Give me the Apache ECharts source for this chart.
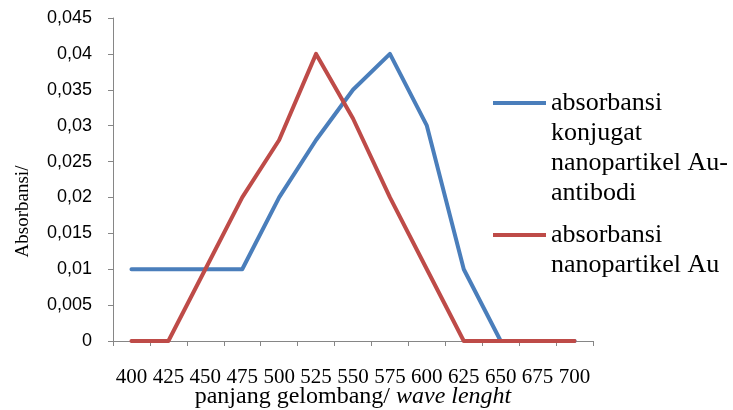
<!DOCTYPE html>
<html>
<head>
<meta charset="utf-8">
<script src="https://cdn.jsdelivr.net/npm/echarts@6/dist/echarts.min.js"></script>
<style>html,body{margin:0;padding:0;background:#fff}#c{width:733px;height:410px}</style>
</head>
<body>
<div id="c"></div>
<script>
var categories = ['400','425','450','475','500','525','550','575','600','625','650','675','700'];
var conjugateValues = [0.01,0.01,0.01,0.01,0.02,0.028,0.035,0.04,0.03,0.01,0,0,0];
var nanoValues = [0,0,0.01,0.02,0.028,0.04,0.031,0.02,0.01,0,0,0,0];
var seriesNames = ['absorbansi\nkonjugat\nnanopartikel Au-\nantibodi', 'absorbansi\nnanopartikel Au'];
var yMin = 0, yMax = 0.045, yStep = 0.005;

var chart = echarts.init(document.getElementById('c'));
var serif = 'Liberation Serif';
var axisGray = '#868686';
function padTop(n) { return function (name) { return new Array(n + 1).join('\n') + name; }; }
chart.setOption({
  animation: false,
  backgroundColor: '#fff',
  grid: {left: 113, right: 140, top: 18, bottom: 69, containLabel: false, outerBoundsMode: 'none'},
  legend: [
    {left: 493, top: -2, padding: 0, orient: 'vertical', icon: 'rect', itemWidth: 53, itemHeight: 4, selectedMode: false,
     formatter: padTop(3),
     textStyle: {fontFamily: serif, fontSize: 26, color: '#000', lineHeight: 30},
     data: [seriesNames[0]]},
    {left: 493, top: 190, padding: 0, orient: 'vertical', icon: 'rect', itemWidth: 53, itemHeight: 4, selectedMode: false,
     formatter: padTop(1),
     textStyle: {fontFamily: serif, fontSize: 26, color: '#000', lineHeight: 30},
     data: [seriesNames[1]]}
  ],
  xAxis: {
    type: 'category', data: categories, boundaryGap: true,
    axisLine: {lineStyle: {color: axisGray, width: 1}},
    axisTick: {show: true, alignWithLabel: false, length: 5, lineStyle: {color: axisGray}},
    axisLabel: {fontFamily: serif, fontSize: 21, color: '#000', margin: 26, interval: 0},
    name: '{a|panjang gelombang/ }{b|wave lenght}', nameLocation: 'middle', nameGap: 44, nameMoveOverlap: false,
    nameTextStyle: {rich: {a: {fontFamily: serif, fontSize: 24, color: '#000'}, b: {fontFamily: serif, fontSize: 24, fontStyle: 'italic', color: '#000'}}}
  },
  yAxis: {
    type: 'value', min: yMin, max: yMax, interval: yStep,
    splitLine: {show: false},
    axisLine: {show: true, lineStyle: {color: axisGray, width: 1}},
    axisTick: {show: true, length: 5, lineStyle: {color: axisGray}},
    axisLabel: {fontFamily: 'Liberation Sans', fontSize: 18, color: '#000', margin: 21,
      formatter: function (v) { return v === 0 ? '0' : String(parseFloat(v.toFixed(3))).replace('.', ','); }},
    name: 'Absorbansi/', nameLocation: 'middle', nameGap: 80, nameRotate: 90, nameMoveOverlap: false,
    nameTextStyle: {fontFamily: serif, fontSize: 19, color: '#000', padding: [0, 64, 0, 0]}
  },
  series: [
    {name: seriesNames[0], type: 'line', data: conjugateValues, symbol: 'none', color: '#4A7EBB',
     lineStyle: {width: 4, color: '#4A7EBB', cap: 'round', join: 'round'}},
    {name: seriesNames[1], type: 'line', data: nanoValues, symbol: 'none', color: '#BE4B48',
     lineStyle: {width: 4, color: '#BE4B48', cap: 'round', join: 'round'}}
  ]
});
</script>
</body>
</html>
